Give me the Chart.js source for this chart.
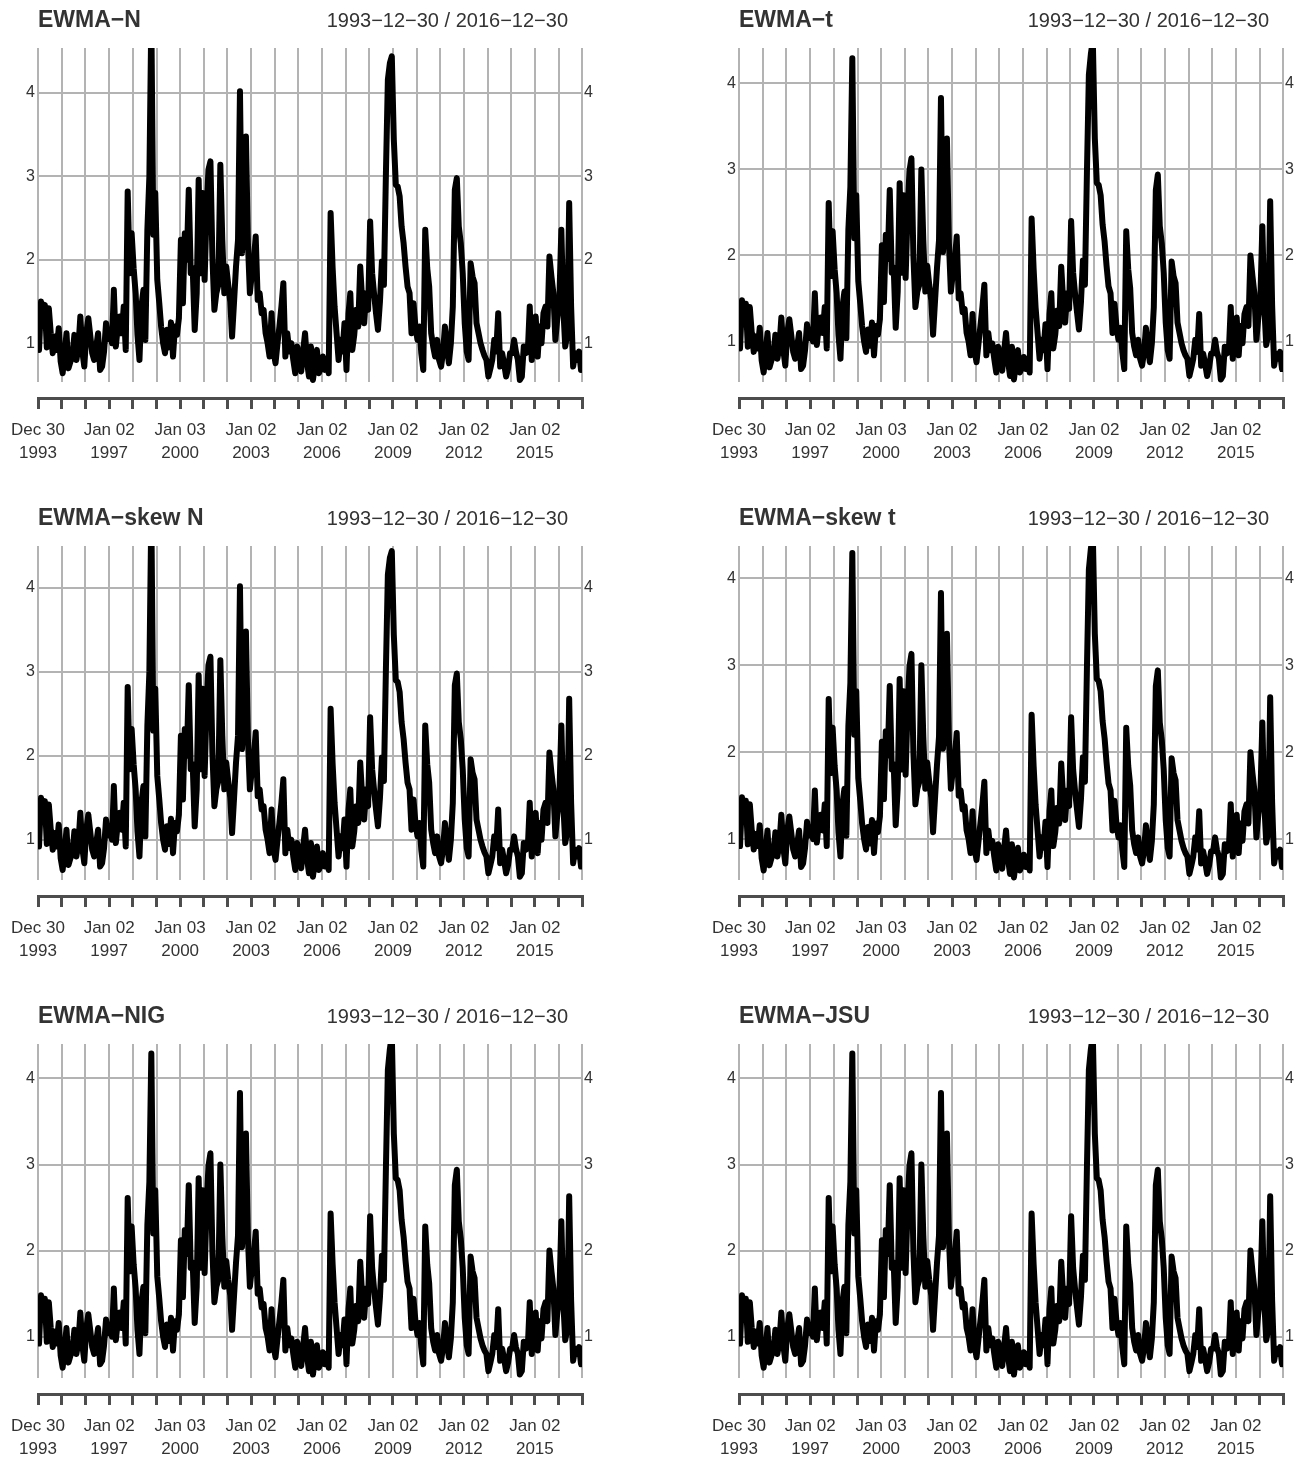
<!DOCTYPE html>
<html>
<head>
<meta charset="utf-8">
<script src="https://cdn.jsdelivr.net/npm/chart.js@4.4.1/dist/chart.umd.min.js"></script>
<style>
  html, body { margin: 0; padding: 0; background: #fff; }
  #wrap { position: relative; width: 1300px; height: 1457px; overflow: hidden; }
  canvas { position: absolute; }
</style>
</head>
<body>
<div id="wrap"></div>
<script>
// monthly values, Jan 1994 .. Dec 2016
const months = [];
for (let y = 1994; y <= 2016; y++) {
  for (let m = 1; m <= 12; m++) months.push(y + '-' + String(m).padStart(2, '0') + '-15');
}

// EWMA-N / EWMA-skew N
const volN = [
  0.92,1.50,1.28,1.46,0.95,1.42,1.12,0.88,1.08,0.92,1.18,0.78,
  0.64,0.88,1.12,0.70,0.78,0.84,1.10,0.80,0.95,1.32,0.90,0.72,
  1.12,1.30,1.10,0.88,0.80,0.95,1.12,0.68,0.72,0.90,1.24,1.05,
  1.16,1.00,1.64,0.96,1.20,1.32,1.12,1.44,0.92,2.82,1.84,2.32,
  1.90,1.60,1.10,0.80,1.44,1.64,1.04,2.36,3.00,4.90,2.30,2.80,
  1.76,1.48,1.20,1.00,0.88,1.16,0.95,1.25,0.84,1.20,1.10,1.30,
  2.24,1.48,2.32,2.00,2.84,1.84,1.90,1.16,1.60,2.96,1.84,2.80,
  1.76,2.60,3.08,3.18,2.04,1.40,1.60,1.70,3.14,2.24,1.60,1.92,
  1.70,1.50,1.08,1.50,1.92,2.24,4.02,2.08,2.60,3.48,2.20,1.60,
  1.84,2.00,2.28,1.52,1.60,1.36,1.40,1.12,1.00,0.84,1.36,0.90,
  0.76,1.00,1.20,1.44,1.72,0.84,1.12,0.90,1.00,0.80,0.64,0.96,
  0.80,0.66,0.90,1.12,0.78,0.60,0.96,0.56,0.75,0.92,0.64,0.70,
  0.84,0.68,0.80,0.64,2.56,1.90,1.44,1.12,0.80,1.04,0.90,1.24,
  0.68,1.36,1.60,0.92,1.10,1.40,1.20,1.92,1.50,1.24,1.60,1.40,
  2.46,1.84,1.60,1.36,1.16,1.50,1.98,1.70,3.04,4.16,4.36,4.44,
  3.44,2.90,2.88,2.76,2.40,2.20,1.92,1.68,1.60,1.12,1.48,1.20,
  1.04,1.20,0.88,0.68,2.36,1.90,1.68,1.12,0.96,0.84,1.04,0.80,
  0.72,0.90,1.20,0.96,0.76,1.00,1.44,2.84,2.98,2.40,2.20,1.84,
  1.24,0.90,0.80,1.96,1.80,1.72,1.24,1.12,1.00,0.92,0.85,0.80,
  0.60,0.70,0.80,1.04,0.90,1.36,0.72,0.88,0.75,0.60,0.70,0.88,
  0.88,1.04,0.90,0.80,0.56,0.60,0.96,0.88,0.90,1.44,0.80,1.10,
  1.32,0.84,1.20,1.00,1.36,1.44,1.20,2.04,1.80,1.60,1.04,1.30,
  1.52,2.36,1.44,0.96,1.10,2.68,1.44,0.72,0.88,0.80,0.90,0.68
];

// EWMA-t / skew t / NIG / JSU
const volT = [
  0.92,1.48,1.26,1.44,0.94,1.40,1.10,0.88,1.06,0.92,1.16,0.78,
  0.64,0.88,1.10,0.70,0.78,0.84,1.08,0.80,0.94,1.28,0.90,0.72,
  1.10,1.26,1.08,0.88,0.80,0.94,1.10,0.68,0.72,0.90,1.20,1.04,
  1.14,1.00,1.56,0.96,1.18,1.28,1.10,1.40,0.92,2.61,1.76,2.28,
  1.84,1.56,1.08,0.80,1.40,1.58,1.04,2.30,2.80,4.29,2.20,2.70,
  1.70,1.44,1.18,1.00,0.88,1.14,0.95,1.22,0.84,1.18,1.08,1.26,
  2.12,1.46,2.24,1.96,2.76,1.80,1.86,1.16,1.58,2.84,1.80,2.70,
  1.74,2.52,2.98,3.13,2.00,1.40,1.58,1.66,3.00,2.18,1.58,1.88,
  1.66,1.48,1.08,1.48,1.86,2.18,3.83,2.04,2.52,3.36,2.14,1.58,
  1.80,1.96,2.22,1.50,1.56,1.34,1.38,1.10,1.00,0.84,1.32,0.90,
  0.76,0.98,1.18,1.40,1.66,0.84,1.10,0.90,0.98,0.80,0.64,0.94,
  0.80,0.66,0.88,1.10,0.78,0.60,0.94,0.56,0.75,0.90,0.64,0.70,
  0.82,0.68,0.80,0.64,2.43,1.84,1.40,1.10,0.80,1.02,0.90,1.20,
  0.68,1.32,1.56,0.92,1.08,1.36,1.18,1.87,1.46,1.22,1.56,1.38,
  2.40,1.80,1.56,1.34,1.14,1.46,1.94,1.66,2.96,4.10,4.34,4.50,
  3.36,2.84,2.82,2.70,2.36,2.16,1.88,1.64,1.56,1.10,1.44,1.18,
  1.02,1.16,0.88,0.68,2.28,1.84,1.62,1.10,0.94,0.84,1.02,0.80,
  0.72,0.88,1.16,0.94,0.76,0.98,1.40,2.76,2.94,2.34,2.14,1.80,
  1.22,0.90,0.80,1.93,1.76,1.68,1.22,1.10,0.98,0.90,0.84,0.80,
  0.60,0.70,0.80,1.02,0.88,1.32,0.72,0.86,0.74,0.60,0.70,0.86,
  0.86,1.02,0.88,0.80,0.56,0.60,0.94,0.86,0.88,1.40,0.80,1.08,
  1.28,0.84,1.18,0.98,1.32,1.40,1.18,2.00,1.76,1.56,1.02,1.28,
  1.48,2.34,1.42,0.96,1.08,2.63,1.42,0.72,0.86,0.80,0.88,0.68
];

const yTicks = [1, 2, 3, 4];
const tickDates = [
  '1993-12-30','1995-01-03','1996-01-02','1997-01-02','1998-01-02','1999-01-04',
  '2000-01-03','2001-01-02','2002-01-02','2003-01-02','2004-01-02','2005-01-03',
  '2006-01-02','2007-01-02','2008-01-02','2009-01-02','2010-01-04','2011-01-03',
  '2012-01-02','2013-01-02','2014-01-02','2015-01-02','2016-01-04','2016-12-30'
];
const tickLabels = [
  'Dec 30\n1993','','','Jan 02\n1997','','',
  'Jan 03\n2000','','','Jan 02\n2003','','',
  'Jan 02\n2006','','','Jan 02\n2009','','',
  'Jan 02\n2012','','','Jan 02\n2015','',''
];

const panelTitles = ['EWMA−N', 'EWMA−t', 'EWMA−skew N', 'EWMA−skew t', 'EWMA−NIG', 'EWMA−JSU'];
const panelSeries = [volN, volT, volN, volT, volT, volT];
const panelYMin = [0.535, 0.53, 0.52, 0.53, 0.52, 0.52];
const panelYMax = [4.54, 4.41, 4.50, 4.37, 4.40, 4.40];
const dateRange = '1993−12−30 / 2016−12−30';
const startDate = '1993-12-30';
const endDate = '2016-12-30';

const FONT = '"Liberation Sans", Arial, Helvetica, sans-serif';
Chart.defaults.font.family = FONT;

function ms(d) {
  const [y, m, dd] = d.split('-').map(Number);
  return Date.UTC(y, m - 1, dd);
}

const headerPlugin = {
  id: 'header',
  afterDraw(chart, args, opts) {
    const { ctx, chartArea } = chart;
    ctx.save();
    ctx.fillStyle = '#333';
    ctx.textBaseline = 'middle';
    ctx.textAlign = 'left';
    ctx.font = 'bold 23px ' + FONT;
    ctx.fillText(opts.title, chartArea.left, 21);
    ctx.font = '20px ' + FONT;
    ctx.textAlign = 'right';
    ctx.fillText(opts.range, chartArea.right - 14, 21);
    ctx.restore();
  }
};

const wrap = document.getElementById('wrap');
const rowTop = [0, 498, 996];
const rowH = [498, 498, 461];

panelTitles.forEach((title, i) => {
  const col = i % 2, row = Math.floor(i / 2);
  const W = 650, H = rowH[row];
  const leftW = col === 0 ? 38 : 89;
  const rightW = col === 0 ? 68 : 17;

  const cv = document.createElement('canvas');
  cv.width = W; cv.height = H;
  cv.style.left = (col * 650) + 'px';
  cv.style.top = rowTop[row] + 'px';
  cv.style.width = W + 'px'; cv.style.height = H + 'px';
  wrap.appendChild(cv);

  const vals = panelSeries[i];
  const points = months.map((m, k) => ({ x: ms(m), y: vals[k] }));
  const setXTicks = s => { s.ticks = tickDates.map(d => ({ value: ms(d) })); };
  const setYTicks = s => { s.ticks = yTicks.map(v => ({ value: v })); };

  new Chart(cv, {
    type: 'line',
    data: {
      datasets: [{
        data: points,
        borderColor: '#000',
        borderWidth: 6,
        pointRadius: 0,
        tension: 0,
        borderJoinStyle: 'round',
        borderCapStyle: 'round',
        clip: { left: 0, top: 0, right: 0, bottom: 4 }
      }]
    },
    options: {
      responsive: false,
      animation: false,
      devicePixelRatio: 1,
      layout: { padding: { top: 48, left: 0, right: 0, bottom: 0 } },
      plugins: {
        legend: { display: false },
        tooltip: { enabled: false },
        header: { title: title, range: dateRange }
      },
      scales: {
        x: {
          type: 'linear',
          position: 'bottom',
          weight: 0,
          min: ms(startDate),
          max: ms(endDate),
          afterBuildTicks: setXTicks,
          afterFit: s => { s.height = 16; },
          grid: { color: '#b3b3b3', lineWidth: 2, drawTicks: false },
          border: { display: false },
          ticks: { display: false }
        },
        x2: {
          type: 'linear',
          position: 'bottom',
          weight: 1,
          min: ms(startDate),
          max: ms(endDate),
          afterBuildTicks: setXTicks,
          afterFit: s => { s.height = H - 398; },
          grid: { drawOnChartArea: false, color: '#4d4d4d', lineWidth: 3, tickLength: 11 },
          border: { color: '#4d4d4d', width: 3 },
          ticks: {
            autoSkip: false,
            maxRotation: 0,
            minRotation: 0,
            color: '#333',
            padding: 10,
            font: { size: 17, lineHeight: 1.35 },
            callback: (v, k) => tickLabels[k] ? tickLabels[k].split('\n') : ''
          }
        },
        y: {
          position: 'left',
          min: panelYMin[i],
          max: panelYMax[i],
          afterBuildTicks: setYTicks,
          afterFit: s => { s.width = leftW; },
          grid: { color: '#b3b3b3', lineWidth: 2, drawTicks: false },
          border: { display: false },
          ticks: { color: '#333', padding: 3, font: { size: 16 } }
        },
        y2: {
          position: 'right',
          min: panelYMin[i],
          max: panelYMax[i],
          afterBuildTicks: setYTicks,
          afterFit: s => { s.width = rightW; },
          grid: { drawOnChartArea: false, drawTicks: false },
          border: { display: false },
          ticks: { color: '#333', padding: 2, font: { size: 16 } }
        }
      }
    },
    plugins: [headerPlugin]
  });
});
</script>
</body>
</html>
